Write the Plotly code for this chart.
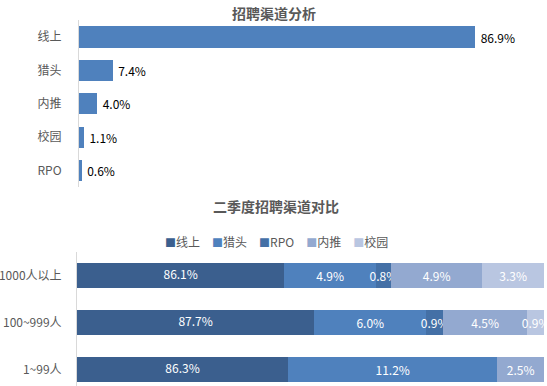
import plotly.graph_objects as go

# ---- data: top chart ----
top_categories = ['线上', '猎头', '内推', '校园', 'RPO']
top_values = [86.9, 7.4, 4.0, 1.1, 0.6]

# ---- data: bottom chart ----
groups = ['1000人以上', '100~999人', '1~99人']
channels = ['线上', '猎头', 'RPO', '内推', '校园']
online = [86.1, 87.7, 86.3]
headhunter = [4.9, 6.0, 11.2]
rpo = [0.8, 0.9, 0.0]
referral = [4.9, 4.5, 2.5]
campus = [3.3, 0.9, 0.0]
series = [online, headhunter, rpo, referral, campus]
colors = ['#3B5F8E', '#4F81BD', '#4470A6', '#93A9D0', '#B9C6E1']
X2_MIN, X2_MAX = 75, 100  # visible range of the stacked chart's value axis

FONT = 'Noto Sans CJK SC'
GRAY = '#595959'
W, H = 547, 386

fig = go.Figure()

fig.add_trace(go.Bar(
    y=top_categories, x=top_values, orientation='h',
    marker=dict(color='#4F81BD', line=dict(width=0)),
    width=0.63,
    text=['\u2009' + f'{v:.1f}%' for v in top_values],
    textposition='outside', textangle=0,
    textfont=dict(color='#000000', size=12, family=FONT),
    cliponaxis=False, showlegend=False,
    xaxis='x', yaxis='y', hoverinfo='skip'))

for i, (name, vals, col) in enumerate(zip(channels, series, colors)):
    fig.add_trace(go.Bar(
        y=groups, x=vals, orientation='h', name=name,
        marker=dict(color=col, line=dict(width=0)),
        width=0.53,
        text=[f'{v:.1f}%' if (v > 0 and i > 0) else '' for v in vals],
        textposition='inside', insidetextanchor='middle', constraintext='none',
        textangle=0,
        textfont=dict(color='#FFFFFF', size=12, family=FONT),
        showlegend=False, xaxis='x2', yaxis='y2', hoverinfo='skip'))

# labels of the first segment, centred in its visible part
fig.add_trace(go.Scatter(
    y=groups, x=[(X2_MIN + v) / 2 for v in online], mode='text',
    text=[f'{v:.1f}%' for v in online],
    textfont=dict(color='#FFFFFF', size=12, family=FONT),
    showlegend=False, xaxis='x2', yaxis='y2', hoverinfo='skip'))

# legend drawn as a text line
legend_parts = []
for name, col in zip(channels, colors):
    legend_parts.append(f'<span style="color:{col};font-size:11px">■</span><span>{name}</span>')
legend_text = '\u2003'.join(legend_parts)

fig.update_layout(
    width=W, height=H,
    margin=dict(l=0, r=0, t=0, b=0, autoexpand=False),
    paper_bgcolor='white', plot_bgcolor='white',
    barmode='stack',
    font=dict(family=FONT, size=12, color=GRAY),
    xaxis=dict(domain=[79 / W, 535 / W], range=[0, 100], showgrid=False,
               showticklabels=False, zeroline=False, showline=False, automargin=False),
    yaxis=dict(domain=[1 - 187.3 / H, 1 - 20.3 / H], range=[4.5, -0.5],
               categoryorder='array', categoryarray=top_categories,
               showline=True, linecolor='#D9D9D9', linewidth=1, showgrid=False,
               ticks='', ticklabelstandoff=14, automargin=False,
               tickfont=dict(size=12, color=GRAY)),
    xaxis2=dict(domain=[77 / W, 544 / W], range=[X2_MIN, X2_MAX], showgrid=False,
                showticklabels=False, zeroline=False, showline=False, anchor='y2',
                automargin=False),
    yaxis2=dict(domain=[0, 1 - 252 / H], range=[2.351, -0.5], anchor='x2',
                categoryorder='array', categoryarray=groups,
                showline=True, linecolor='#D9D9D9', linewidth=1, showgrid=False,
                ticks='', ticklabelstandoff=12, automargin=False,
                tickfont=dict(size=12, color=GRAY)),
    annotations=[
        dict(text='<b>招聘渠道分析</b>', x=0.5, y=1 - 13 / H, xref='paper', yref='paper',
             showarrow=False, font=dict(size=14, color=GRAY, family=FONT), xanchor='center', yanchor='middle'),
        dict(text='<b>二季度招聘渠道对比</b>', x=0.505, y=1 - 206 / H, xref='paper', yref='paper',
             showarrow=False, font=dict(size=14, color=GRAY, family=FONT), xanchor='center', yanchor='middle'),
        dict(text=legend_text, x=276 / W, y=1 - 241 / H, xref='paper', yref='paper',
             showarrow=False, font=dict(size=12, color=GRAY, family=FONT), xanchor='center', yanchor='middle'),
    ],
)

fig.write_html('out.html', config={'displayModeBar': False},
               post_script="document.body.style.margin='0';")
